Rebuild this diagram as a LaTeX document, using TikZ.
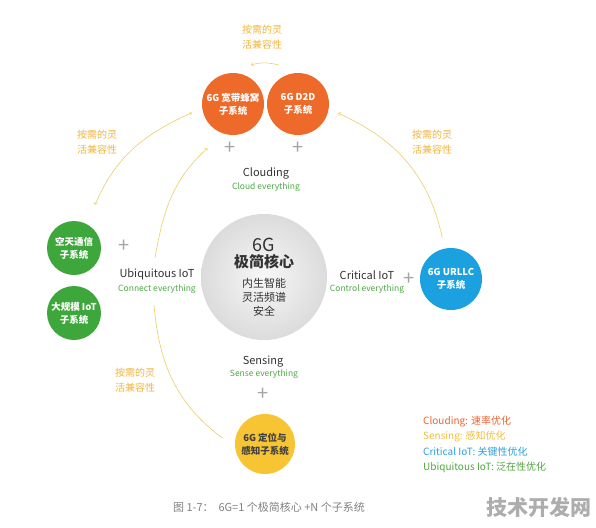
\documentclass[tikz,border=0pt]{standalone}
\usepackage{fontspec}
\setmainfont{Noto Sans CJK SC}
\usetikzlibrary{arrows}

\definecolor{orangeC}{RGB}{238,106,43}
\definecolor{greenC}{RGB}{62,167,59}
\definecolor{blueC}{RGB}{27,160,224}
\definecolor{yellowC}{RGB}{247,196,51}
\definecolor{arcC}{RGB}{234,206,100}
\definecolor{noteC}{RGB}{242,180,60}
\definecolor{subC}{RGB}{78,168,70}
\definecolor{plusC}{RGB}{165,165,165}
\definecolor{cloudC}{RGB}{232,100,50}
\definecolor{senseC}{RGB}{242,190,60}
\definecolor{critC}{RGB}{40,160,220}
\definecolor{ubiqC}{RGB}{80,165,60}

\begin{document}
\begin{tikzpicture}[x=1pt, y=-1pt, auto,
    sub_sys/.style ={circle, inner sep=0pt, align=center, text=white,
      font=\bfseries\fontsize{9.5}{13}\selectfont},
    sub_orange/.style ={sub_sys, fill=orangeC, minimum size=62pt},
    sub_green/.style ={sub_sys, fill=greenC, minimum size=54pt},
    sub_blue/.style ={sub_sys, fill=blueC, minimum size=62pt},
    sub_yellow/.style ={sub_sys, fill=yellowC, minimum size=60pt, text=black!75},
    core/.style ={circle, inner sep=0pt, minimum size=126pt, align=center,
      inner color=black!3, outer color=black!14, text=black!80,
      font=\fontsize{11}{14}\selectfont},
    lbl_main/.style ={text=black!80, inner sep=1pt, font=\fontsize{11}{13}\selectfont},
    lbl_sub/.style ={text=subC, inner sep=1pt, font=\fontsize{8.5}{10}\selectfont},
    note/.style ={text=noteC, align=center, inner sep=1pt,
      font=\fontsize{10}{14.5}\selectfont},
    plus_sign/.style ={text=plusC, inner sep=0pt, font=\fontsize{20}{20}\selectfont},
    legend/.style ={anchor=west, inner sep=0pt, font=\fontsize{10}{12}\selectfont},
    line/.style ={draw=arcC, line width=0.6pt, -to}]
    \useasboundingbox (0,0) rectangle (596,527);
    % the core in the middle
    \node[core] (core) at (264,277) {{\fontsize{18}{19}\selectfont 6G}\\[2pt]
      {\bfseries\fontsize{15}{18}\selectfont 极简核心}\\[6pt]
      内生智能\\ 灵活频谱\\ 安全};
    % subsystems
    \node[sub_orange] (orange1) at (233,104) {6G 宽带蜂窝\\子系统};
    \node[sub_orange] (orange2) at (298,104) {6G D2D\\子系统};
    \node[sub_green] (green1) at (74,248) {空天通信\\子系统};
    \node[sub_green] (green2) at (74,313) {大规模 IoT\\子系统};
    \node[sub_blue] (blue) at (451,279) {6G URLLC\\子系统};
    \node[sub_yellow] (yellow) at (265,444) {6G 定位与\\感知子系统};
    % the four directions
    \node[lbl_main] (cloud) at (266,173) {Clouding};
    \node[lbl_sub] (cloud_sub) at (266,187) {Cloud everything};
    \node[lbl_main] (crit) at (367,275) {Critical IoT};
    \node[lbl_sub] (crit_sub) at (367,289) {Control everything};
    \node[lbl_main] (ubiq) at (157,274) {Ubiquitous IoT};
    \node[lbl_sub] (ubiq_sub) at (157,289) {Connect everything};
    \node[lbl_main] (sense) at (263,362) {Sensing};
    \node[lbl_sub] (sense_sub) at (264,374) {Sense everything};
    % plus signs
    \node[plus_sign] (plus_o1) at (230,148) {+};
    \node[plus_sign] (plus_o2) at (298,148) {+};
    \node[plus_sign] (plus_g) at (124,246) {+};
    \node[plus_sign] (plus_b) at (409,279) {+};
    \node[plus_sign] (plus_y) at (263,394) {+};
    % notes on the arcs
    \node[note] (note_top) at (262,37) {按需的灵\\活兼容性};
    \node[note] (note_left) at (97,142) {按需的灵\\活兼容性};
    \node[note] (note_right) at (432,142) {按需的灵\\活兼容性};
    \node[note] (note_low) at (135,380) {按需的灵\\活兼容性};
    % arcs
    \coordinate (arc_lo) at (154,305);
    \coordinate (arc_hi) at (155,258);
    \draw[line] ([shift={(116:12pt)}]orange2.116) to[out=165,in=15] ([shift={(65:12pt)}]orange1.65);
    \draw[line, to-to] ([shift={(64:21pt)}]green1.64) to[out=67,in=204] ([shift={(192:11pt)}]orange1.192);
    \draw[line] ([shift={(102:11pt)}]blue.102) to[out=102,in=336] ([shift={(347:10pt)}]orange2.347);
    \draw[line, -] ([shift={(172:13pt)}]yellow.172) to[out=143,in=275] (arc_lo);
    \draw[line] (arc_hi) to[out=80,in=222] ([shift={(240:20pt)}]orange1.240);
    % legend
    \node[legend, text=cloudC] (lg_cloud) at (423,422) {Clouding: 速率优化};
    \node[legend, text=senseC] (lg_sense) at (423,437) {Sensing: 感知优化};
    \node[legend, text=critC] (lg_crit) at (423,452) {Critical IoT: 关键性优化};
    \node[legend, text=ubiqC] (lg_ubiq) at (423,467) {Ubiquitous IoT: 泛在性优化};
    % caption and mark
    \node[text=black!50, font=\fontsize{11}{13}\selectfont] (caption) at (269,507) {图 1-7：\ \ 6G=1 个极简核心 +N 个子系统};
    \node[text=black!32, font=\bfseries\fontsize{21}{24}\selectfont] (mark) at (539,507) {技术开发网};
\end{tikzpicture}
\end{document}
